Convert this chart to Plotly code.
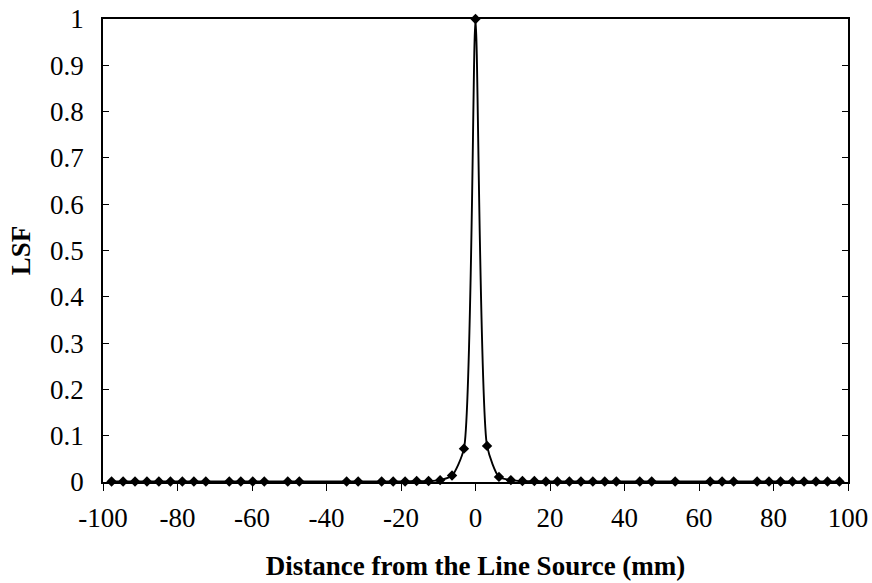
import plotly.graph_objects as go

# Distance from the line source (mm) and normalised LSF values
distance_mm = [
    -97.7, -94.6, -91.4, -88.2, -85.0, -81.9, -78.7, -75.6, -72.4,
    -66.1, -63.0, -59.8, -56.7,
    -50.4, -47.3,
    -34.6, -31.5,
    -25.2, -22.1, -18.9, -15.8, -12.6, -9.5, -6.3, -3.1,
    0.0,
    3.1, 6.3, 9.5, 12.6, 15.8, 18.9, 22.0, 25.2, 28.3, 31.5, 34.7, 37.8,
    44.1, 47.3,
    53.6,
    63.0, 66.2, 69.3,
    75.6, 78.8, 81.9, 85.1, 88.2, 91.4, 94.5, 97.7,
]
lsf = [
    0.001, 0.001, 0.001, 0.001, 0.001, 0.001, 0.001, 0.001, 0.001,
    0.001, 0.001, 0.001, 0.001,
    0.001, 0.001,
    0.001, 0.001,
    0.001, 0.001, 0.001, 0.002, 0.002, 0.004, 0.014, 0.072,
    1.0,
    0.078, 0.011, 0.004, 0.002, 0.002, 0.001, 0.001, 0.001, 0.001, 0.001, 0.001, 0.001,
    0.001, 0.001,
    0.001,
    0.001, 0.001, 0.001,
    0.001, 0.001, 0.001, 0.001, 0.001, 0.001, 0.001, 0.001,
]

x_ticks = [-100, -80, -60, -40, -20, 0, 20, 40, 60, 80, 100]
y_ticks = [0, 0.1, 0.2, 0.3, 0.4, 0.5, 0.6, 0.7, 0.8, 0.9, 1]

font_family = "Liberation Serif"

fig = go.Figure()
fig.add_trace(go.Scatter(
    x=distance_mm,
    y=lsf,
    mode="lines+markers",
    line=dict(color="black", width=1.9, shape="spline", smoothing=0.6),
    marker=dict(symbol="diamond", size=8, color="black"),
    cliponaxis=False,
    showlegend=False,
))

fig.update_layout(
    width=872,
    height=583,
    margin=dict(l=103, r=24, t=19, b=101),
    paper_bgcolor="white",
    plot_bgcolor="white",
    font=dict(family=font_family, size=27, color="black"),
    xaxis=dict(
        range=[-100, 100],
        tickvals=x_ticks,
        ticktext=[str(v) for v in x_ticks],
        ticks="outside",
        ticklen=7,
        tickcolor="black",
        tickfont=dict(size=27),
        showline=True,
        linecolor="black",
        linewidth=1.5,
        mirror=True,
        showgrid=False,
        zeroline=False,
        automargin=False,
        ticklabeloverflow="allow",
        title=dict(text="<b>Distance from the Line Source (mm)</b>",
                   font=dict(family=font_family, size=27), standoff=24),
        ticklabelstandoff=4,
    ),
    yaxis=dict(
        range=[0, 1],
        tickvals=y_ticks,
        ticktext=["0", "0.1", "0.2", "0.3", "0.4", "0.5", "0.6", "0.7", "0.8", "0.9", "1"],
        ticks="inside",
        ticklen=6,
        tickcolor="black",
        tickfont=dict(size=27),
        showline=True,
        linecolor="black",
        linewidth=1.5,
        mirror="ticks",
        showgrid=False,
        zeroline=False,
        automargin=False,
        ticklabeloverflow="allow",
        title=dict(text="<b>LSF</b>", font=dict(family=font_family, size=27), standoff=12),
        ticklabelstandoff=12,
    ),
)

# remove the browser's default 8 px page margin so the figure fills the window exactly
fig.write_html(
    "out.html",
    config={"displayModeBar": False},
    post_script="document.body.style.margin='0px';",
)
